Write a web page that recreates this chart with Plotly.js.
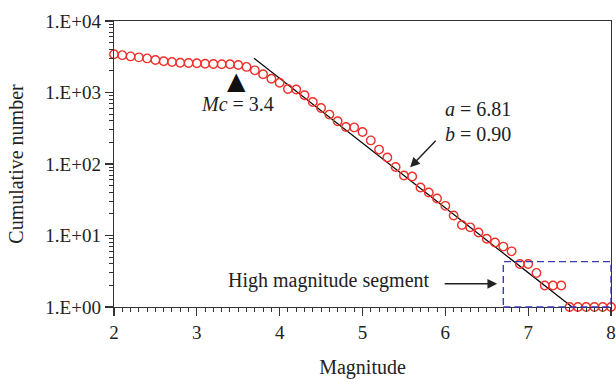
<!DOCTYPE html>
<html>
<head>
<meta charset="utf-8">
<script src="https://cdn.plot.ly/plotly-3.0.1.min.js"></script>
<style>html,body{margin:0;padding:0;background:#fff;}#chart{width:616px;height:379px;}</style>
</head>
<body>
<div id="chart"></div>
<script>
const magnitude = [2.0,2.1,2.2,2.3,2.4,2.5,2.6,2.7,2.8,2.9,3.0,3.1,3.2,3.3,3.4,3.5,3.6,3.7,3.8,3.9,4.0,4.1,4.2,4.3,4.4,4.5,4.6,4.7,4.8,4.9,5.0,5.1,5.2,5.3,5.4,5.5,5.6,5.7,5.8,5.9,6.0,6.1,6.2,6.3,6.4,6.5,6.6,6.7,6.8,6.9,7.0,7.1,7.2,7.3,7.4,7.5,7.6,7.7,7.8,7.9,8.0];
const cumulative = [3420,3330,3200,3100,3000,2850,2730,2670,2610,2590,2560,2530,2500,2480,2480,2430,2280,2040,1800,1560,1370,1120,1100,915,737,607,491,396,329,325,280,214,159,123,91,69,67,47,40,33,26,19,14,13,11,9,8,7,6,4,4,3,2,2,2,1,1,1,1,1,1];
const fitM = [3.69, 7.53];
const fitN = [3020, 1.0];
const yTickVals = [1, 10, 100, 1000, 10000];
const yTickText = ["1.E+00","1.E+01","1.E+02","1.E+03","1.E+04"];
const xTickVals = [2,3,4,5,6,7,8];

const serif = "Liberation Serif, Times New Roman, serif";
const axisColor = "#333";

const traces = [
  {x: fitM, y: fitN, mode: "lines", line: {color: "#000", width: 1.2}, hoverinfo: "skip", cliponaxis: false},
  {x: magnitude, y: cumulative, mode: "markers", cliponaxis: false,
   marker: {symbol: "circle-open", size: 8.5, color: "#f0302a", line: {width: 1.4, color: "#f0302a"}}}
];

// paper y from log value (axis range 0..4)
const py = v => v / 4;

const layout = {
  width: 616, height: 379,
  margin: {l: 114, r: 5, t: 21, b: 72},
  paper_bgcolor: "#fff", plot_bgcolor: "#fff",
  showlegend: false,
  font: {family: serif, color: "#222", size: 19},
  xaxis: {
    range: [2, 8], tickvals: xTickVals, ticks: "outside", ticklen: 8, tickwidth: 1.2, tickcolor: axisColor,
    showline: true, linecolor: axisColor, linewidth: 1.3, mirror: true, showgrid: false, zeroline: false,
    minor: {dtick: 0.1, ticks: "outside", ticklen: 4, tickcolor: axisColor, tickwidth: 1, showgrid: false},
    tickfont: {family: serif, size: 19, color: "#222"},
    title: {text: "Magnitude", font: {family: serif, size: 20, color: "#222"}, standoff: 18}
  },
  yaxis: {
    type: "log", range: [0, 4], tickvals: yTickVals, ticktext: yTickText, ticks: "outside", ticklen: 8, tickwidth: 1.2, tickcolor: axisColor,
    showline: true, linecolor: axisColor, linewidth: 1.3, mirror: true, showgrid: false, zeroline: false,
    minor: {dtick: "D1", ticks: "outside", ticklen: 4, tickcolor: axisColor, tickwidth: 1, showgrid: false},
    tickfont: {family: serif, size: 19, color: "#222"},
    title: {text: "Cumulative number", font: {family: serif, size: 20, color: "#222"}, standoff: 16}
  },
  shapes: [
    {type: "rect", xref: "x", yref: "paper", x0: 6.7, x1: 8.0, y0: py(0), y1: py(0.634),
     line: {color: "#3a3ab4", width: 1.4, dash: "7px,4px"}}
  ],
  annotations: [
    {xref: "x", yref: "paper", x: 3.48, y: py(3.164), xanchor: "center", yanchor: "middle", text: "▲", showarrow: false,
     font: {family: "DejaVu Sans", size: 24, color: "#111"}},
    {xref: "x", yref: "paper", x: 3.49, y: py(2.835), xanchor: "center", yanchor: "middle", text: "<i>Mc</i> = 3.4", showarrow: false,
     font: {family: serif, size: 20, color: "#222"}},
    {xref: "x", yref: "paper", x: 5.973, y: py(2.765), xanchor: "left", yanchor: "middle", text: "<i>a</i> = 6.81", showarrow: false,
     font: {family: serif, size: 20, color: "#222"}},
    {xref: "x", yref: "paper", x: 5.973, y: py(2.415), xanchor: "left", yanchor: "middle", text: "<i>b</i> = 0.90", showarrow: false,
     font: {family: serif, size: 20, color: "#222"}},
    {xref: "x", yref: "paper", x: 5.575, y: py(1.954), text: "", showarrow: true, ax: 27, ay: -28,
     arrowhead: 2, arrowsize: 1.3, arrowwidth: 1.5, arrowcolor: "#222"},
    {xref: "x", yref: "paper", x: 5.84, y: py(0.373), xanchor: "right", yanchor: "middle", text: "High magnitude segment", showarrow: false,
     font: {family: serif, size: 20, color: "#222"}},
    {xref: "x", yref: "paper", x: 6.626, y: py(0.3245), text: "", showarrow: true, ax: -54, ay: 0,
     arrowhead: 2, arrowsize: 1.3, arrowwidth: 1.5, arrowcolor: "#222"}
  ]
};

Plotly.newPlot("chart", traces, layout, {displayModeBar: false, staticPlot: true});
</script>
</body>
</html>
